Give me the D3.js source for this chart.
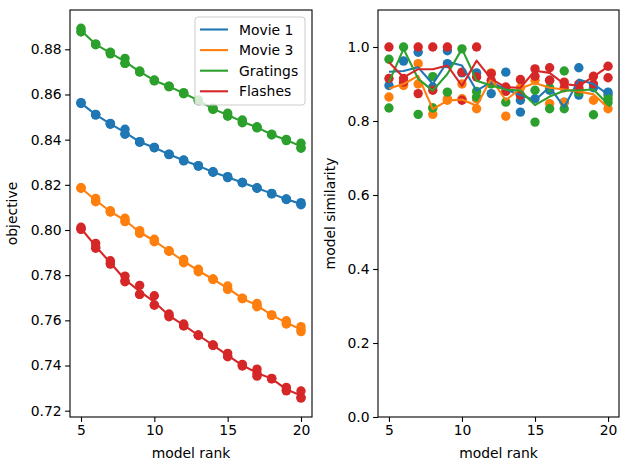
<!DOCTYPE html>
<html><head><meta charset="utf-8">
<script src="https://cdn.jsdelivr.net/npm/d3@7"></script>
<style>body{margin:0;background:#fff} text{font-family:"DejaVu Sans",sans-serif}</style>
</head><body><svg id="c" width="629" height="470"></svg>
<script>
const ranks = [5,6,7,8,9,10,11,12,13,14,15,16,17,18,19,20];
const stimuli = ["Movie 1","Movie 3","Gratings","Flashes"];
const colors = ["#1f77b4","#ff7f0e","#2ca02c","#d62728"];
const xTicks = [5,10,15,20];
const objTicks = [0.72,0.74,0.76,0.78,0.80,0.82,0.84,0.86,0.88];
const simTicks = [0.0,0.2,0.4,0.6,0.8,1.0];

// left panel: objective, several fits per rank
const objMovie1 = [[0.8564,0.8562,0.8560],[0.8512,0.8510,0.8510],[0.8472,0.8470,0.8468],[0.8446,0.8424,0.8426],[0.8391,0.8389,0.8390],[0.8366,0.8364,0.8365],[0.8336,0.8334,0.8335],[0.8310,0.8306,0.8308],[0.8285,0.8283,0.8284],[0.8258,0.8256,0.8257],[0.8236,0.8232,0.8234],[0.8211,0.8209,0.8210],[0.8187,0.8185,0.8186],[0.8162,0.8160,0.8161],[0.8137,0.8135,0.8136],[0.8121,0.8114,0.8112]];
const objMovie3 = [[0.8187,0.8185,0.8186],[0.8140,0.8125,0.8130],[0.8085,0.8081,0.8080],[0.8052,0.8037,0.8040],[0.7997,0.7985,0.7988],[0.7959,0.7948,0.7950],[0.7908,0.7906,0.7907],[0.7870,0.7855,0.7860],[0.7826,0.7815,0.7818],[0.7783,0.7781,0.7782],[0.7752,0.7737,0.7740],[0.7698,0.7696,0.7697],[0.7675,0.7660,0.7664],[0.7624,0.7622,0.7623],[0.7598,0.7584,0.7588],[0.7572,0.7557,0.7550]];
const objGratings = [[0.8893,0.8878,0.8878],[0.8823,0.8823,0.8820],[0.8787,0.8785,0.8780],[0.8760,0.8738,0.8738],[0.8704,0.8700,0.8700],[0.8664,0.8662,0.8660],[0.8637,0.8635,0.8635],[0.8608,0.8605,0.8603],[0.8576,0.8574,0.8572],[0.8539,0.8536,0.8534],[0.8517,0.8505,0.8505],[0.8487,0.8475,0.8477],[0.8457,0.8454,0.8452],[0.8424,0.8422,0.8422],[0.8401,0.8398,0.8396],[0.8384,0.8362,0.8365]];
const objFlashes = [[0.8012,0.8003,0.8005],[0.7941,0.7919,0.7925],[0.7864,0.7849,0.7852],[0.7796,0.7771,0.7775],[0.7755,0.7715,0.7715],[0.7709,0.7668,0.7668],[0.7628,0.7616,0.7620],[0.7584,0.7575,0.7578],[0.7535,0.7533,0.7534],[0.7491,0.7489,0.7490],[0.7454,0.7439,0.7442],[0.7405,0.7398,0.7400],[0.7384,0.7365,0.7353],[0.7343,0.7341,0.7342],[0.7303,0.7288,0.7292],[0.7287,0.7257,0.7257]];

// right panel: model similarity points (visible ones) and mean lines
const simMovie1 = [[0.896],[0.962,0.90],[0.986],[0.892],[0.99,0.955],[0.93],[0.93,0.86],[0.874],[0.932],[0.824,0.856],[0.86],[0.91,0.883],[0.851],[0.944,0.87],[0.89],[0.878,0.87]];
const simMovie3 = [[0.865],[0.896],[0.955,0.90],[0.818,0.835],[0.856,0.86],[0.90,0.86],[0.833,0.86],[0.93],[0.813],[0.89],[0.91],[0.847],[0.85],[0.89],[0.856],[0.833]];
const simGratings = [[0.967,0.835],[1.0],[0.818],[0.92,0.835],[0.878],[0.995],[0.88,0.865],[0.90],[0.851],[0.87],[0.883,0.797],[0.833,0.89],[0.935,0.833],[0.878],[0.817],[0.86,0.85]];
const simFlashes = [[1.0,0.915],[0.915,0.905],[1.0,0.874],[1.0,0.883],[1.0],[0.932,0.856],[1.0,0.919],[0.928,0.91],[0.892,0.88],[0.912,0.87],[0.941,0.921],[0.944,0.91],[0.905,0.89],[0.887,0.90],[0.921,0.90],[0.948,0.917]];
const simLineMovie1 = [0.933,0.935,0.945,0.90,0.96,0.95,0.882,0.905,0.885,0.87,0.856,0.892,0.837,0.912,0.90,0.872];
const simLineMovie3 = [0.888,0.90,0.922,0.832,0.855,0.858,0.841,0.914,0.856,0.888,0.903,0.89,0.885,0.88,0.872,0.836];
const simLineGratings = [0.905,0.995,0.914,0.882,0.927,0.995,0.909,0.896,0.885,0.882,0.843,0.866,0.882,0.883,0.885,0.845];
const simLineFlashes = [0.959,0.918,0.94,0.94,0.95,0.895,0.963,0.914,0.891,0.89,0.936,0.93,0.90,0.895,0.92,0.947];

const objSets = [objMovie1,objMovie3,objGratings,objFlashes];
const simSets = [simMovie1,simMovie3,simGratings,simFlashes];
const simLines = [simLineMovie1,simLineMovie3,simLineGratings,simLineFlashes];

const svg = d3.select("#c");
const plotTop = 10, plotBottom = 417;
const fs = 13.9;

function panel(x0, x1, yDomain, yTicks, yFmt, ylabel, ylabelX, pointSets, lineSets, legend) {
  const x = d3.scaleLinear().domain([4.25, 20.75]).range([x0, x1]);
  const y = d3.scaleLinear().domain(yDomain).range([plotBottom, plotTop]);
  const g = svg.append("g");
  pointSets.forEach((set, si) => {
    const pts = [];
    set.forEach((vals, i) => vals.forEach(v => pts.push([ranks[i], v])));
    g.append("g").selectAll("circle").data(pts).join("circle")
      .attr("cx", d => x(d[0])).attr("cy", d => y(d[1])).attr("r", 4.7)
      .attr("fill", colors[si]);
  });
  const line = d3.line().x((d, i) => x(ranks[i])).y(d => y(d));
  lineSets.forEach((vals, si) => {
    g.append("path").attr("d", line(vals)).attr("fill", "none")
      .attr("stroke", colors[si]).attr("stroke-width", 2.1).attr("stroke-linejoin","round");
  });
  const ax = g.append("g").attr("transform", `translate(0,${plotBottom})`)
    .call(d3.axisBottom(x).tickValues(xTicks).tickSize(4.9).tickPadding(3.5).tickFormat(d3.format("d")));
  const ay = g.append("g").attr("transform", `translate(${x0},0)`)
    .call(d3.axisLeft(y).tickValues(yTicks).tickSize(4.9).tickPadding(3.5).tickFormat(yFmt));
  [ax, ay].forEach(a => {
    a.select(".domain").remove();
    a.selectAll("line").attr("stroke", "#000").attr("stroke-width", 1.1);
    a.selectAll("text").attr("font-size", fs).attr("fill", "#000").style("font-family", "DejaVu Sans");
  });
  g.append("rect").attr("x", x0).attr("y", plotTop).attr("width", x1 - x0).attr("height", plotBottom - plotTop)
    .attr("fill", "none").attr("stroke", "#000").attr("stroke-width", 1.1);
  g.append("text").attr("x", (x0 + x1) / 2).attr("y", 458).attr("text-anchor", "middle")
    .attr("font-size", fs).text("model rank");
  g.append("text").attr("transform", `translate(${ylabelX},${(plotTop + plotBottom) / 2}) rotate(-90)`)
    .attr("text-anchor", "middle").attr("font-size", fs).text(ylabel);
  if (legend) {
    const lx = x1 - 7 - 110, ly = plotTop + 7;
    const lg = g.append("g");
    lg.append("rect").attr("x", lx).attr("y", ly).attr("width", 110).attr("height", 88)
      .attr("rx", 3).attr("fill", "#fff").attr("fill-opacity", 0.8)
      .attr("stroke", "#cccccc").attr("stroke-width", 1);
    stimuli.forEach((s, i) => {
      const yy = ly + 12.5 + i * 20.6;
      lg.append("line").attr("x1", lx + 5).attr("x2", lx + 33).attr("y1", yy).attr("y2", yy)
        .attr("stroke", colors[i]).attr("stroke-width", 2.1);
      lg.append("text").attr("x", lx + 44).attr("y", yy + 5).attr("font-size", fs).text(s);
    });
  }
}

const objLines = objSets.map(set => set.map(vals => d3.mean(vals)));
panel(70, 312, [0.71721, 0.89740], objTicks, d3.format(".2f"), "objective", 17, objSets, objLines, true);
panel(378, 619, [0, 1.1], simTicks, d3.format(".1f"), "model similarity", 335, simSets, simLines, false);
</script></body></html>
